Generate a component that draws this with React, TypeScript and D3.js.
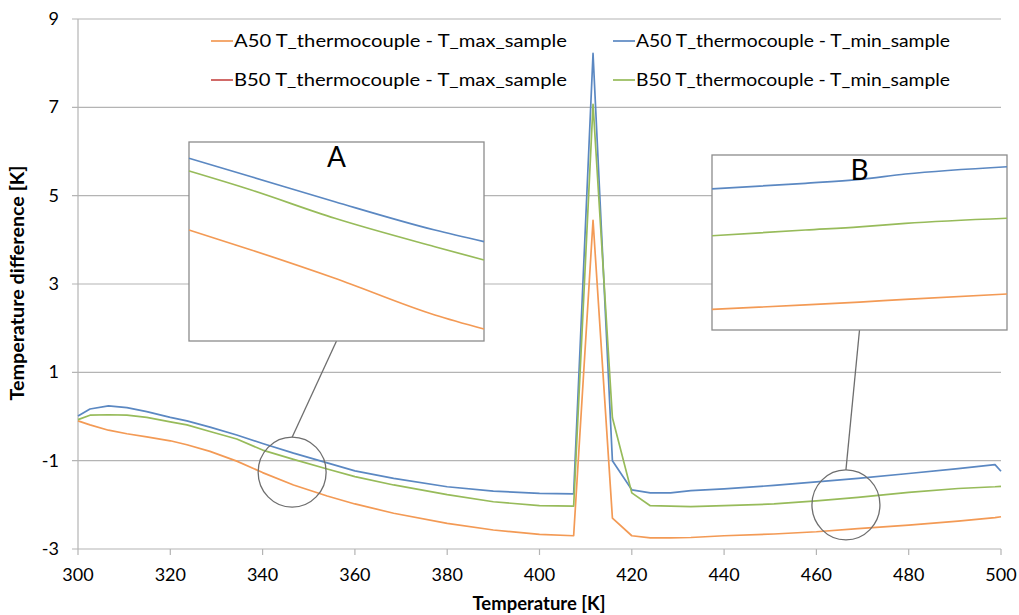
import { useEffect, useRef } from 'react';
import * as d3 from 'd3';

// temperature samples [K] shared by all series
const temperature = [
  300, 302.6, 306.6, 310.6, 314.9, 320, 323.6, 328.6, 334.4, 340, 346.7, 354, 360, 368.4,
  380, 390, 400, 407.4, 411.6, 415.8, 420, 424, 428.4, 432.8, 440, 450.8, 460, 469, 480,
  490.7, 498.7, 500,
];

// T_thermocouple - T_max_sample / T_min_sample [K]
const a50MaxDiff = [
  -0.10, -0.19, -0.31, -0.39, -0.46, -0.55, -0.64, -0.79, -1.01, -1.27, -1.55, -1.80, -1.98, -2.19,
  -2.42, -2.57, -2.67, -2.70, 4.44, -2.30, -2.70, -2.75, -2.75, -2.74, -2.70, -2.66, -2.61, -2.54, -2.46,
  -2.37, -2.29, -2.27,
];
const a50MinDiff = [
  0.01, 0.17, 0.24, 0.20, 0.11, -0.02, -0.10, -0.24, -0.42, -0.61, -0.83, -1.05, -1.23, -1.40,
  -1.59, -1.69, -1.74, -1.75, 8.22, -1.00, -1.66, -1.73, -1.73, -1.68, -1.64, -1.56, -1.48, -1.40, -1.29,
  -1.18, -1.09, -1.24,
];
const b50MaxDiff: number[] = []; // listed in the legend, no visible line
const b50MinDiff = [
  -0.07, 0.03, 0.04, 0.03, -0.02, -0.12, -0.19, -0.34, -0.51, -0.76, -0.97, -1.19, -1.36, -1.55,
  -1.77, -1.93, -2.02, -2.03, 7.07, -0.03, -1.73, -2.02, -2.03, -2.04, -2.02, -1.98, -1.91, -1.83, -1.72,
  -1.63, -1.59, -1.58,
];

// zoomed inset A (around 347 K)
const insetATemp = [339, 342.8, 347.9, 354, 357];
const insetAMax = [-1.246, -1.426, -1.682, -2.014, -2.141];
const insetAMinA = [-0.597, -0.764, -0.990, -1.246, -1.351];
const insetAMinB = [-0.712, -0.884, -1.140, -1.397, -1.517];

// zoomed inset B (around 466 K)
const insetBTemp = [458, 463.7, 467, 469.8, 476];
const insetBMax = [-2.695, -2.656, -2.630, -2.605, -2.557];
const insetBMinA = [-1.607, -1.556, -1.520, -1.472, -1.406];
const insetBMinB = [-2.030, -1.978, -1.950, -1.918, -1.872];

const xTicks = [300, 320, 340, 360, 380, 400, 420, 440, 460, 480, 500];
const yTicks = [-3, -1, 1, 3, 5, 7, 9];

const legendLabels = [
  'A50 T_thermocouple - T_max_sample',
  'A50 T_thermocouple - T_min_sample',
  'B50 T_thermocouple - T_max_sample',
  'B50 T_thermocouple - T_min_sample',
];
const colors = { a50Max: '#f39a55', a50Min: '#5b88c2', b50Max: '#c9504d', b50Min: '#97bb5a' };

const FONT = 'Lato, "Open Sans", sans-serif';

function App() {
  const svgRef = useRef<SVGSVGElement>(null);

  useEffect(() => {
    const width = 1019;
    const height = 615;
    const plot = { left: 78, right: 1001, top: 19, bottom: 549 };

    d3.select(svgRef.current).selectAll('*').remove();
    const svg = d3.select(svgRef.current).attr('width', width).attr('height', height);

    const x = d3.scaleLinear().domain([300, 500]).range([plot.left, plot.right]);
    const y = d3.scaleLinear().domain([-3, 9]).range([plot.bottom, plot.top]);

    // horizontal gridlines with small outer ticks
    svg.append('g')
      .selectAll('line')
      .data(yTicks)
      .join('line')
      .attr('x1', plot.left - 6)
      .attr('x2', plot.right)
      .attr('y1', d => y(d))
      .attr('y2', d => y(d))
      .attr('stroke', '#b4b4b4')
      .attr('stroke-width', 1.2);

    // y axis line
    svg.append('line')
      .attr('x1', plot.left).attr('x2', plot.left)
      .attr('y1', plot.top).attr('y2', plot.bottom)
      .attr('stroke', '#b4b4b4').attr('stroke-width', 1.2);

    // x axis ticks
    svg.append('g')
      .selectAll('line')
      .data(xTicks)
      .join('line')
      .attr('x1', d => x(d)).attr('x2', d => x(d))
      .attr('y1', plot.bottom).attr('y2', plot.bottom + 6)
      .attr('stroke', '#b4b4b4').attr('stroke-width', 1.2);

    svg.append('g')
      .selectAll('text')
      .data(yTicks)
      .join('text')
      .attr('x', 59)
      .attr('y', d => y(d) + 6)
      .attr('text-anchor', 'end')
      .attr('font-family', FONT)
      .attr('font-size', 18)
      .attr('fill', '#000')
      .text(d => d);

    svg.append('g')
      .selectAll('text')
      .data(xTicks)
      .join('text')
      .attr('x', d => x(d))
      .attr('y', plot.bottom + 32)
      .attr('text-anchor', 'middle')
      .attr('font-family', FONT)
      .attr('font-size', 18)
      .attr('fill', '#000')
      .text(d => d);

    svg.append('text')
      .attr('x', 539).attr('y', 610)
      .attr('text-anchor', 'middle')
      .attr('font-family', FONT).attr('font-weight', 'bold').attr('font-size', 18)
      .attr('textLength', 133).attr('lengthAdjust', 'spacingAndGlyphs')
      .text('Temperature [K]');

    svg.append('text')
      .attr('transform', `translate(24, 283) rotate(-90)`)
      .attr('text-anchor', 'middle')
      .attr('font-family', FONT).attr('font-weight', 'bold').attr('font-size', 18)
      .attr('textLength', 235).attr('lengthAdjust', 'spacingAndGlyphs')
      .text('Temperature difference [K]');

    const line = d3.line<number>()
      .x((_, i) => x(temperature[i]))
      .y(d => y(d));

    // Excel series order: later ones on top
    const series = [
      { values: a50MaxDiff, color: colors.a50Max },
      { values: a50MinDiff, color: colors.a50Min },
      { values: b50MaxDiff, color: colors.b50Max },
      { values: b50MinDiff, color: colors.b50Min },
    ];
    series.filter(s => s.values.length > 0).forEach(s => {
      svg.append('path')
        .datum(s.values)
        .attr('d', line)
        .attr('fill', 'none')
        .attr('stroke', s.color)
        .attr('stroke-width', 1.7)
        .attr('stroke-linejoin', 'round');
    });

    // legend, two columns filled row by row
    const legendColors = [colors.a50Max, colors.a50Min, colors.b50Max, colors.b50Min];
    const legendCols = [211, 613];
    const legendWidths = [333, 314];
    const legendRows = [41, 80];
    legendLabels.forEach((label, i) => {
      const lx = legendCols[i % 2];
      const ly = legendRows[Math.floor(i / 2)];
      svg.append('line')
        .attr('x1', lx).attr('x2', lx + 22)
        .attr('y1', ly).attr('y2', ly)
        .attr('stroke', legendColors[i]).attr('stroke-width', 1.7);
      svg.append('text')
        .attr('x', lx + 23).attr('y', ly + 6)
        .attr('font-family', FONT).attr('font-size', 18)
        .attr('textLength', legendWidths[i % 2]).attr('lengthAdjust', 'spacingAndGlyphs')
        .text(label);
    });

    // zoom circles, connectors and inset boxes
    const insets = [
      {
        label: 'A', cx: 346.4, cy: -1.26,
        box: { x: 189, y: 142, w: 295, h: 199 },
        xDomain: [339, 357], yDomain: [-0.45, -0.45 - 199 / 110.6],
        temps: insetATemp, lines: [insetAMax, insetAMinA, insetAMinB],
      },
      {
        label: 'B', cx: 466.4, cy: -2.0,
        box: { x: 712, y: 155, w: 295, h: 175 },
        xDomain: [458, 476], yDomain: [-1.30, -1.30 - 175 / 110.6],
        temps: insetBTemp, lines: [insetBMax, insetBMinA, insetBMinB],
      },
    ];
    const lineColors = [colors.a50Max, colors.a50Min, colors.b50Min];
    const r = 35;

    insets.forEach(inset => {
      const cx = x(inset.cx);
      const cy = y(inset.cy);
      const { box } = inset;
      svg.append('ellipse')
        .attr('cx', cx).attr('cy', cy).attr('rx', r - 1).attr('ry', r)
        .attr('fill', 'none').attr('stroke', '#6e6e6e').attr('stroke-width', 1.3);
      svg.append('line')
        .attr('x1', cx).attr('y1', cy - r)
        .attr('x2', box.x + box.w / 2).attr('y2', box.y + box.h)
        .attr('stroke', '#6e6e6e').attr('stroke-width', 1.3);

      svg.append('rect')
        .attr('x', box.x).attr('y', box.y).attr('width', box.w).attr('height', box.h)
        .attr('fill', '#fff').attr('stroke', '#8c8c8c').attr('stroke-width', 1.3);

      const ix = d3.scaleLinear().domain(inset.xDomain).range([box.x, box.x + box.w]);
      const iy = d3.scaleLinear().domain(inset.yDomain).range([box.y, box.y + box.h]);
      const insetLine = d3.line<number>()
        .x((_, i) => ix(inset.temps[i]))
        .y(d => iy(d))
        .curve(d3.curveMonotoneX);
      inset.lines.forEach((vals, k) => {
        svg.append('path')
          .datum(vals)
          .attr('d', insetLine)
          .attr('fill', 'none')
          .attr('stroke', lineColors[k])
          .attr('stroke-width', 1.7);
      });
      svg.append('text')
        .attr('x', box.x + box.w / 2).attr('y', box.y + 25)
        .attr('text-anchor', 'middle')
        .attr('font-family', FONT).attr('font-size', 28)
        .text(inset.label);
    });
  }, []);

  return (
    <div style={{ position: 'absolute', left: 0, top: 0 }}>
      <svg ref={svgRef} style={{ display: 'block', background: '#fff' }} />
    </div>
  );
}

export default App;
